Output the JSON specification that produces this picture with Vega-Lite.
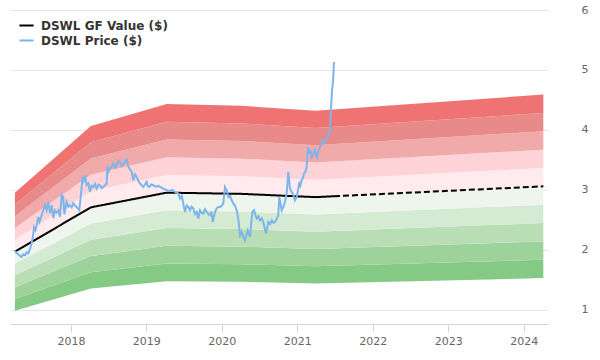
{
  "$schema": "https://vega.github.io/schema/vega-lite/v6.json",
  "width": 538,
  "height": 314,
  "autosize": {"type": "none"},
  "padding": {"left": 10, "top": 10, "right": 52, "bottom": 36},
  "background": "#ffffff",
  "config": {
    "view": {"stroke": null},
    "font": "DejaVu Sans",
    "axis": {"labelFont": "DejaVu Sans", "labelColor": "#666666", "labelFontSize": 11, "title": null},
    "axisX": {"grid": false, "domainColor": "#ccd6eb", "tickColor": "#ccd6eb", "tickSize": 8, "labelPadding": 3},
    "axisY": {"domain": false, "ticks": false, "gridColor": "#e6e6e6", "labelPadding": 33}
  },
  "datasets": {
    "bands": [
      {"year": 2017.258, "band": "50-60", "lo": 0.985, "hi": 1.182},
      {"year": 2017.258, "band": "60-70", "lo": 1.182, "hi": 1.379},
      {"year": 2017.258, "band": "70-80", "lo": 1.379, "hi": 1.576},
      {"year": 2017.258, "band": "80-90", "lo": 1.576, "hi": 1.773},
      {"year": 2017.258, "band": "90-100", "lo": 1.773, "hi": 1.97},
      {"year": 2017.258, "band": "100-110", "lo": 1.97, "hi": 2.167},
      {"year": 2017.258, "band": "110-120", "lo": 2.167, "hi": 2.364},
      {"year": 2017.258, "band": "120-130", "lo": 2.364, "hi": 2.561},
      {"year": 2017.258, "band": "130-140", "lo": 2.561, "hi": 2.758},
      {"year": 2017.258, "band": "140-150", "lo": 2.758, "hi": 2.955},
      {"year": 2018.265, "band": "50-60", "lo": 1.355, "hi": 1.626},
      {"year": 2018.265, "band": "60-70", "lo": 1.626, "hi": 1.897},
      {"year": 2018.265, "band": "70-80", "lo": 1.897, "hi": 2.168},
      {"year": 2018.265, "band": "80-90", "lo": 2.168, "hi": 2.439},
      {"year": 2018.265, "band": "90-100", "lo": 2.439, "hi": 2.71},
      {"year": 2018.265, "band": "100-110", "lo": 2.71, "hi": 2.981},
      {"year": 2018.265, "band": "110-120", "lo": 2.981, "hi": 3.252},
      {"year": 2018.265, "band": "120-130", "lo": 3.252, "hi": 3.523},
      {"year": 2018.265, "band": "130-140", "lo": 3.523, "hi": 3.794},
      {"year": 2018.265, "band": "140-150", "lo": 3.794, "hi": 4.065},
      {"year": 2019.27, "band": "50-60", "lo": 1.478, "hi": 1.773},
      {"year": 2019.27, "band": "60-70", "lo": 1.773, "hi": 2.069},
      {"year": 2019.27, "band": "70-80", "lo": 2.069, "hi": 2.364},
      {"year": 2019.27, "band": "80-90", "lo": 2.364, "hi": 2.66},
      {"year": 2019.27, "band": "90-100", "lo": 2.66, "hi": 2.955},
      {"year": 2019.27, "band": "100-110", "lo": 2.955, "hi": 3.251},
      {"year": 2019.27, "band": "110-120", "lo": 3.251, "hi": 3.546},
      {"year": 2019.27, "band": "120-130", "lo": 3.546, "hi": 3.842},
      {"year": 2019.27, "band": "130-140", "lo": 3.842, "hi": 4.137},
      {"year": 2019.27, "band": "140-150", "lo": 4.137, "hi": 4.433},
      {"year": 2020.26, "band": "50-60", "lo": 1.468, "hi": 1.761},
      {"year": 2020.26, "band": "60-70", "lo": 1.761, "hi": 2.055},
      {"year": 2020.26, "band": "70-80", "lo": 2.055, "hi": 2.348},
      {"year": 2020.26, "band": "80-90", "lo": 2.348, "hi": 2.642},
      {"year": 2020.26, "band": "90-100", "lo": 2.642, "hi": 2.935},
      {"year": 2020.26, "band": "100-110", "lo": 2.935, "hi": 3.229},
      {"year": 2020.26, "band": "110-120", "lo": 3.229, "hi": 3.522},
      {"year": 2020.26, "band": "120-130", "lo": 3.522, "hi": 3.816},
      {"year": 2020.26, "band": "130-140", "lo": 3.816, "hi": 4.109},
      {"year": 2020.26, "band": "140-150", "lo": 4.109, "hi": 4.403},
      {"year": 2021.24, "band": "50-60", "lo": 1.44, "hi": 1.728},
      {"year": 2021.24, "band": "60-70", "lo": 1.728, "hi": 2.016},
      {"year": 2021.24, "band": "70-80", "lo": 2.016, "hi": 2.304},
      {"year": 2021.24, "band": "80-90", "lo": 2.304, "hi": 2.592},
      {"year": 2021.24, "band": "90-100", "lo": 2.592, "hi": 2.88},
      {"year": 2021.24, "band": "100-110", "lo": 2.88, "hi": 3.168},
      {"year": 2021.24, "band": "110-120", "lo": 3.168, "hi": 3.456},
      {"year": 2021.24, "band": "120-130", "lo": 3.456, "hi": 3.744},
      {"year": 2021.24, "band": "130-140", "lo": 3.744, "hi": 4.032},
      {"year": 2021.24, "band": "140-150", "lo": 4.032, "hi": 4.32},
      {"year": 2024.26, "band": "50-60", "lo": 1.53, "hi": 1.836},
      {"year": 2024.26, "band": "60-70", "lo": 1.836, "hi": 2.142},
      {"year": 2024.26, "band": "70-80", "lo": 2.142, "hi": 2.448},
      {"year": 2024.26, "band": "80-90", "lo": 2.448, "hi": 2.754},
      {"year": 2024.26, "band": "90-100", "lo": 2.754, "hi": 3.06},
      {"year": 2024.26, "band": "100-110", "lo": 3.06, "hi": 3.366},
      {"year": 2024.26, "band": "110-120", "lo": 3.366, "hi": 3.672},
      {"year": 2024.26, "band": "120-130", "lo": 3.672, "hi": 3.978},
      {"year": 2024.26, "band": "130-140", "lo": 3.978, "hi": 4.284},
      {"year": 2024.26, "band": "140-150", "lo": 4.284, "hi": 4.59}
    ],
    "gf": [
      {"year": 2017.258, "gf": 1.97, "seg": "actual"},
      {"year": 2018.265, "gf": 2.71, "seg": "actual"},
      {"year": 2019.27, "gf": 2.955, "seg": "actual"},
      {"year": 2020.26, "gf": 2.935, "seg": "actual"},
      {"year": 2021.24, "gf": 2.88, "seg": "actual"},
      {"year": 2021.486, "gf": 2.895, "seg": "actual"},
      {"year": 2021.486, "gf": 2.895, "seg": "estimate"},
      {"year": 2022.25, "gf": 2.94, "seg": "estimate"},
      {"year": 2023.25, "gf": 3.0, "seg": "estimate"},
      {"year": 2024.26, "gf": 3.06, "seg": "estimate"}
    ],
    "price": [
      {"year": 2017.259, "price": 1.982},
      {"year": 2017.281, "price": 1.95},
      {"year": 2017.303, "price": 1.927},
      {"year": 2017.326, "price": 1.9},
      {"year": 2017.348, "price": 1.881},
      {"year": 2017.37, "price": 1.93},
      {"year": 2017.392, "price": 1.91},
      {"year": 2017.414, "price": 1.96},
      {"year": 2017.436, "price": 1.943},
      {"year": 2017.467, "price": 2.048},
      {"year": 2017.48, "price": 2.12},
      {"year": 2017.494, "price": 2.194},
      {"year": 2017.511, "price": 2.377},
      {"year": 2017.53, "price": 2.33},
      {"year": 2017.547, "price": 2.411},
      {"year": 2017.568, "price": 2.549},
      {"year": 2017.585, "price": 2.47},
      {"year": 2017.6, "price": 2.528},
      {"year": 2017.634, "price": 2.661},
      {"year": 2017.657, "price": 2.745},
      {"year": 2017.679, "price": 2.661},
      {"year": 2017.701, "price": 2.8},
      {"year": 2017.723, "price": 2.611},
      {"year": 2017.746, "price": 2.745},
      {"year": 2017.767, "price": 2.528},
      {"year": 2017.789, "price": 2.661},
      {"year": 2017.81, "price": 2.62},
      {"year": 2017.833, "price": 2.661},
      {"year": 2017.856, "price": 2.549},
      {"year": 2017.878, "price": 2.912},
      {"year": 2017.899, "price": 2.883},
      {"year": 2017.913, "price": 2.594},
      {"year": 2017.944, "price": 2.8},
      {"year": 2017.966, "price": 2.72},
      {"year": 2017.988, "price": 2.745},
      {"year": 2018.01, "price": 2.71},
      {"year": 2018.032, "price": 2.778},
      {"year": 2018.055, "price": 2.74},
      {"year": 2018.077, "price": 2.716},
      {"year": 2018.111, "price": 2.661},
      {"year": 2018.13, "price": 2.883},
      {"year": 2018.156, "price": 3.217},
      {"year": 2018.17, "price": 3.16},
      {"year": 2018.187, "price": 3.245},
      {"year": 2018.209, "price": 3.078},
      {"year": 2018.231, "price": 3.112},
      {"year": 2018.253, "price": 2.967},
      {"year": 2018.275, "price": 3.07},
      {"year": 2018.297, "price": 3.05},
      {"year": 2018.32, "price": 3.1},
      {"year": 2018.342, "price": 3.023},
      {"year": 2018.364, "price": 3.09},
      {"year": 2018.386, "price": 3.078},
      {"year": 2018.41, "price": 3.03},
      {"year": 2018.429, "price": 3.05},
      {"year": 2018.474, "price": 3.107},
      {"year": 2018.482, "price": 3.384},
      {"year": 2018.5, "price": 3.31},
      {"year": 2018.518, "price": 3.362},
      {"year": 2018.54, "price": 3.39},
      {"year": 2018.562, "price": 3.441},
      {"year": 2018.585, "price": 3.37},
      {"year": 2018.607, "price": 3.412},
      {"year": 2018.63, "price": 3.48},
      {"year": 2018.651, "price": 3.467},
      {"year": 2018.672, "price": 3.4},
      {"year": 2018.694, "price": 3.441},
      {"year": 2018.715, "price": 3.46},
      {"year": 2018.739, "price": 3.508},
      {"year": 2018.761, "price": 3.384},
      {"year": 2018.785, "price": 3.34},
      {"year": 2018.806, "price": 3.301},
      {"year": 2018.827, "price": 3.162},
      {"year": 2018.85, "price": 3.26},
      {"year": 2018.872, "price": 3.217},
      {"year": 2018.895, "price": 3.15},
      {"year": 2018.916, "price": 3.107},
      {"year": 2018.959, "price": 3.05},
      {"year": 2018.98, "price": 3.09},
      {"year": 2019.004, "price": 3.134},
      {"year": 2019.02, "price": 3.06},
      {"year": 2019.039, "price": 3.05},
      {"year": 2019.065, "price": 3.09},
      {"year": 2019.092, "price": 3.078},
      {"year": 2019.137, "price": 3.05},
      {"year": 2019.16, "price": 3.07},
      {"year": 2019.181, "price": 3.05},
      {"year": 2019.224, "price": 3.023},
      {"year": 2019.269, "price": 2.995},
      {"year": 2019.313, "price": 2.983},
      {"year": 2019.345, "price": 3.0},
      {"year": 2019.379, "price": 2.967},
      {"year": 2019.423, "price": 2.94},
      {"year": 2019.446, "price": 2.856},
      {"year": 2019.47, "price": 2.9},
      {"year": 2019.489, "price": 2.773},
      {"year": 2019.512, "price": 2.633},
      {"year": 2019.535, "price": 2.74},
      {"year": 2019.556, "price": 2.716},
      {"year": 2019.578, "price": 2.661},
      {"year": 2019.6, "price": 2.72},
      {"year": 2019.622, "price": 2.689},
      {"year": 2019.645, "price": 2.6},
      {"year": 2019.667, "price": 2.633},
      {"year": 2019.688, "price": 2.523},
      {"year": 2019.711, "price": 2.661},
      {"year": 2019.733, "price": 2.62},
      {"year": 2019.754, "price": 2.606},
      {"year": 2019.775, "price": 2.68},
      {"year": 2019.799, "price": 2.633},
      {"year": 2019.82, "price": 2.6},
      {"year": 2019.843, "price": 2.578},
      {"year": 2019.862, "price": 2.64},
      {"year": 2019.879, "price": 2.466},
      {"year": 2019.909, "price": 2.633},
      {"year": 2019.93, "price": 2.69},
      {"year": 2019.953, "price": 2.716},
      {"year": 2019.976, "price": 2.716},
      {"year": 2020.0, "price": 2.74},
      {"year": 2020.019, "price": 2.773},
      {"year": 2020.042, "price": 3.05},
      {"year": 2020.064, "price": 2.995},
      {"year": 2020.086, "price": 2.883},
      {"year": 2020.11, "price": 2.9},
      {"year": 2020.131, "price": 2.828},
      {"year": 2020.152, "price": 2.773},
      {"year": 2020.174, "price": 2.745},
      {"year": 2020.197, "price": 2.661},
      {"year": 2020.218, "price": 2.523},
      {"year": 2020.241, "price": 2.244},
      {"year": 2020.262, "price": 2.3},
      {"year": 2020.284, "price": 2.215},
      {"year": 2020.307, "price": 2.16},
      {"year": 2020.325, "price": 2.25},
      {"year": 2020.343, "price": 2.327},
      {"year": 2020.373, "price": 2.215},
      {"year": 2020.404, "price": 2.633},
      {"year": 2020.426, "price": 2.661},
      {"year": 2020.445, "price": 2.58},
      {"year": 2020.462, "price": 2.523},
      {"year": 2020.485, "price": 2.56},
      {"year": 2020.506, "price": 2.494},
      {"year": 2020.53, "price": 2.53},
      {"year": 2020.549, "price": 2.466},
      {"year": 2020.585, "price": 2.272},
      {"year": 2020.616, "price": 2.466},
      {"year": 2020.64, "price": 2.43},
      {"year": 2020.661, "price": 2.494},
      {"year": 2020.683, "price": 2.45},
      {"year": 2020.704, "price": 2.466},
      {"year": 2020.725, "price": 2.51},
      {"year": 2020.748, "price": 2.578},
      {"year": 2020.761, "price": 2.883},
      {"year": 2020.793, "price": 2.661},
      {"year": 2020.824, "price": 2.745},
      {"year": 2020.84, "price": 2.82},
      {"year": 2020.859, "price": 2.94},
      {"year": 2020.881, "price": 3.301},
      {"year": 2020.903, "price": 3.023},
      {"year": 2020.92, "price": 2.98},
      {"year": 2020.939, "price": 2.94},
      {"year": 2020.969, "price": 2.828},
      {"year": 2020.992, "price": 2.883},
      {"year": 2021.01, "price": 3.0},
      {"year": 2021.026, "price": 3.107},
      {"year": 2021.04, "price": 3.07},
      {"year": 2021.058, "price": 3.162},
      {"year": 2021.075, "price": 3.2},
      {"year": 2021.089, "price": 3.274},
      {"year": 2021.105, "price": 3.3},
      {"year": 2021.124, "price": 3.384},
      {"year": 2021.142, "price": 3.713},
      {"year": 2021.16, "price": 3.6},
      {"year": 2021.175, "price": 3.66},
      {"year": 2021.191, "price": 3.551},
      {"year": 2021.21, "price": 3.6},
      {"year": 2021.234, "price": 3.663},
      {"year": 2021.261, "price": 3.546},
      {"year": 2021.28, "price": 3.65},
      {"year": 2021.301, "price": 3.713},
      {"year": 2021.32, "price": 3.77},
      {"year": 2021.34, "price": 3.83},
      {"year": 2021.365, "price": 3.8},
      {"year": 2021.393, "price": 3.88},
      {"year": 2021.41, "price": 3.92},
      {"year": 2021.433, "price": 3.997},
      {"year": 2021.446, "price": 4.331},
      {"year": 2021.46, "price": 4.664},
      {"year": 2021.473, "price": 4.798},
      {"year": 2021.486, "price": 5.132}
    ]
  },
  "encoding": {
    "x": {
      "field": "year",
      "type": "quantitative",
      "scale": {"domain": [2017.193, 2024.322], "nice": false, "zero": false},
      "axis": {"values": [2018, 2019, 2020, 2021, 2022, 2023, 2024], "format": "d"}
    }
  },
  "layer": [
    {
      "data": {"name": "bands"},
      "mark": {"type": "area", "opacity": 1},
      "encoding": {
        "y": {
          "field": "lo",
          "type": "quantitative",
          "scale": {"domain": [0.765, 6], "nice": false, "zero": false},
          "axis": {"orient": "right", "values": [1, 2, 3, 4, 5, 6]}
        },
        "y2": {"field": "hi"},
        "fill": {
          "field": "band",
          "type": "nominal",
          "scale": {
            "domain": ["50-60", "60-70", "70-80", "80-90", "90-100", "100-110", "110-120", "120-130", "130-140", "140-150"],
            "range": ["#84c984", "#9dd39b", "#b9deb6", "#d5ead3", "#edf5ec", "#ffebed", "#fdd3d8", "#f0aaaa", "#e88a8a", "#f07373"]
          },
          "legend": null
        }
      }
    },
    {
      "data": {"name": "gf"},
      "mark": {"type": "line", "strokeWidth": 2},
      "encoding": {
        "y": {"field": "gf", "type": "quantitative", "axis": {"orient": "right", "values": [1, 2, 3, 4, 5, 6]}},
        "detail": {"field": "seg"},
        "strokeDash": {
          "field": "seg",
          "type": "nominal",
          "scale": {"domain": ["actual", "estimate"], "range": [[1, 0], [6, 3]]},
          "legend": null
        },
        "stroke": {
          "datum": "DSWL GF Value ($)",
          "type": "nominal",
          "scale": {"domain": ["DSWL GF Value ($)", "DSWL Price ($)"], "range": ["#000000", "#7cb5ec"]},
          "legend": {
            "orient": "none",
            "legendX": 8,
            "legendY": 7,
            "title": null,
            "padding": 0,
            "symbolType": "stroke",
            "symbolSize": 200,
            "symbolStrokeWidth": 2,
            "labelFont": "DejaVu Sans",
            "labelFontWeight": "bold",
            "labelFontSize": 12,
            "labelColor": "#333333",
            "labelOffset": 6,
            "rowPadding": -2
          }
        }
      }
    },
    {
      "data": {"name": "price"},
      "mark": {"type": "line", "strokeWidth": 2},
      "encoding": {
        "y": {"field": "price", "type": "quantitative", "axis": {"orient": "right", "values": [1, 2, 3, 4, 5, 6]}},
        "stroke": {"datum": "DSWL Price ($)", "type": "nominal"}
      }
    }
  ]
}
